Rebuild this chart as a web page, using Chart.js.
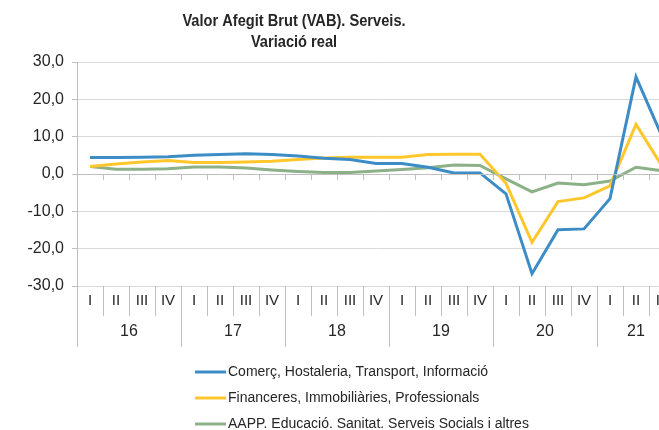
<!DOCTYPE html>
<html>
<head>
<meta charset="utf-8">
<script src="https://cdn.jsdelivr.net/npm/chart.js@4"></script>
<style>
  html, body { margin: 0; padding: 0; background: #fff; overflow: hidden; }
  #wrap { width: 700px; height: 430px; }
</style>
</head>
<body>
<div id="wrap"><canvas id="vabChart" width="700" height="430"></canvas></div>
<script>
// quarters and years on the category axis
const quarterLabels = ["I", "II", "III", "IV", "I", "II", "III", "IV", "I", "II", "III", "IV",
    "I", "II", "III", "IV", "I", "II", "III", "IV", "I", "II", "III"];
const yearLabels = ["16", "17", "18", "19", "20", "21"];
const quartersPerYear = [4, 4, 4, 4, 4, 3];

// series values (% real variation)
const comercValues = [4.4, 4.4, 4.5, 4.6, 5.0, 5.2, 5.4, 5.2, 4.8, 4.2, 3.9, 2.8,
    2.8, 1.8, 0.3, 0.3, -5.3, -26.7, -14.9, -14.7, -6.6, 26.0, 10.1];
const financeresValues = [2.0, 2.7, 3.2, 3.6, 3.1, 3.1, 3.2, 3.4, 3.9, 4.3, 4.5, 4.5,
    4.5, 5.2, 5.3, 5.3, -2.5, -18.3, -7.4, -6.4, -3.2, 13.3, 2.1];
const aappValues = [2.0, 1.3, 1.3, 1.4, 1.9, 1.9, 1.6, 1.1, 0.7, 0.4, 0.4, 0.8,
    1.2, 1.7, 2.4, 2.3, -1.3, -4.8, -2.4, -2.9, -1.9, 1.8, 0.9];

const seriesNames = ["Comerç, Hostaleria, Transport, Informació",
    "Financeres, Immobiliàries, Professionals",
    "AAPP. Educació. Sanitat. Serveis Socials i altres"];
const titleLines = ["Valor Afegit Brut (VAB). Serveis.", "Variació real"];

const textColor = "#262626";
const axisColor = "#bfbfbf";
const gridColor = "#d9d9d9";
const fontName = "'Liberation Sans', Arial, sans-serif";

// draws title, zero-line ticks, the two-level category labels and the legend
const excelLook = {
    id: "excelLook",
    afterDraw(chart) {
        const ctx = chart.ctx;
        const x = chart.scales.x;
        const y = chart.scales.y;
        const area = chart.chartArea;
        const step = x.getPixelForValue(1) - x.getPixelForValue(0);
        const zeroY = y.getPixelForValue(0);

        ctx.save();
        // title (narrow face, squeezed horizontally)
        ctx.fillStyle = textColor;
        ctx.textAlign = "center";
        ctx.textBaseline = "middle";
        ctx.font = "bold 17px " + fontName;
        ctx.save();
        ctx.translate(294, 0);
        ctx.scale(0.86, 1);
        ctx.fillText(titleLines[0], 0, 21);
        ctx.fillText(titleLines[1], 0, 42);
        ctx.restore();

        // zero line and its tick marks
        ctx.strokeStyle = axisColor;
        ctx.lineWidth = 1;
        ctx.beginPath();
        ctx.moveTo(area.left, zeroY + 0.5);
        ctx.lineTo(area.right, zeroY + 0.5);
        for (let i = 0; i <= quarterLabels.length; i++) {
            const bx = Math.round(x.getPixelForValue(i) - step / 2) + 0.5;
            ctx.moveTo(bx, zeroY);
            ctx.lineTo(bx, zeroY + 6);
            // quarter separators below the plot
            ctx.moveTo(bx, area.bottom);
            ctx.lineTo(bx, area.bottom + 30);
        }
        // year separators and labels
        let start = 0;
        ctx.font = "16px " + fontName;
        yearLabels.forEach((yr, k) => {
            const end = start + quartersPerYear[k];
            const left = x.getPixelForValue(start) - step / 2;
            const right = x.getPixelForValue(end) - step / 2;
            const lx = Math.round(left) + 0.5;
            ctx.moveTo(lx, area.bottom);
            ctx.lineTo(lx, area.bottom + 61);
            ctx.fillText(yr, (left + right) / 2, area.bottom + 46);
            start = end;
        });
        ctx.stroke();

        // legend
        const colors = chart.data.datasets.map(d => d.borderColor);
        ctx.textAlign = "left";
        ctx.font = "14px " + fontName;
        seriesNames.forEach((name, i) => {
            const ly = 372 + i * 26;
            ctx.strokeStyle = colors[i];
            ctx.lineWidth = 3;
            ctx.beginPath();
            ctx.moveTo(195, ly);
            ctx.lineTo(226, ly);
            ctx.stroke();
            ctx.fillStyle = textColor;
            ctx.fillText(name, 228, ly);
        });
        ctx.restore();
    }
};

new Chart(document.getElementById("vabChart"), {
    type: "line",
    data: {
        labels: quarterLabels,
        datasets: [
            { label: seriesNames[0], data: comercValues, borderColor: "rgb(60, 140, 198)" },
            { label: seriesNames[1], data: financeresValues, borderColor: "rgb(255, 199, 44)" },
            { label: seriesNames[2], data: aappValues, borderColor: "rgb(140, 176, 136)" },
        ].map(d => Object.assign(d, { borderWidth: 3, pointRadius: 0, tension: 0, fill: false })),
    },
    options: {
        responsive: false,
        animation: false,
        layout: { padding: { top: 62, right: 25, bottom: 122, left: 0 } },
        plugins: { legend: { display: false }, title: { display: false }, tooltip: { enabled: false } },
        scales: {
            x: {
                offset: true,
                grid: { display: false },
                border: { display: false },
                ticks: { color: textColor, font: { family: fontName, size: 15 }, padding: -2, maxRotation: 0, autoSkip: false },
            },
            y: {
                min: -30,
                max: 30,
                afterFit: (scale) => { scale.width = 77; },
                grid: { color: gridColor, tickLength: 5, tickColor: axisColor },
                border: { color: axisColor },
                ticks: {
                    stepSize: 10,
                    color: textColor,
                    padding: 8,
                    font: { family: fontName, size: 16 },
                    callback: (v) => v.toFixed(1).replace(".", ","),
                },
            },
        },
    },
    plugins: [excelLook],
});
</script>
</body>
</html>
